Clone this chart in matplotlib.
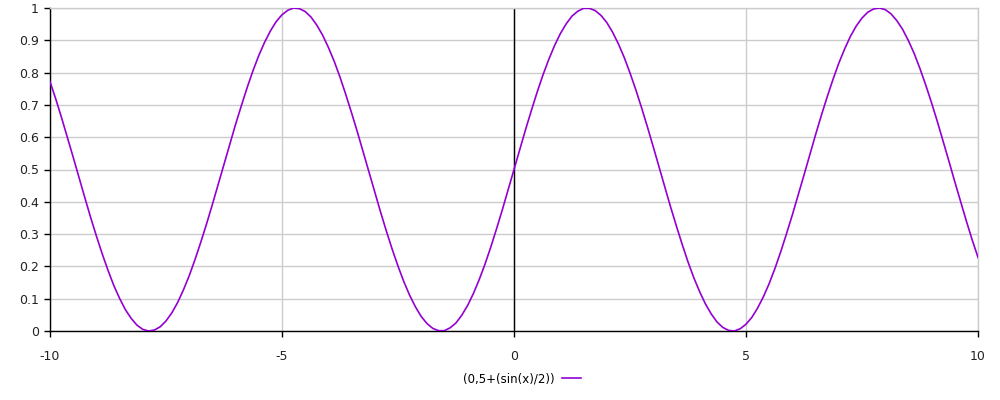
import numpy as np
import matplotlib
matplotlib.use("Agg")
import matplotlib.pyplot as plt

# Sample positions and values (one row per x unit, from -10)
x_start, x_step = -10.0, 0.125
y_values = [
    0.772, 0.718, 0.660, 0.599, 0.538, 0.475, 0.413, 0.352,
    0.294, 0.239, 0.188, 0.141, 0.101, 0.066, 0.039, 0.018,
    0.005, 0.000, 0.003, 0.013, 0.031, 0.056, 0.088, 0.127,
    0.171, 0.221, 0.275, 0.332, 0.392, 0.454, 0.517, 0.579,
    0.640, 0.698, 0.754, 0.806, 0.853, 0.894, 0.929, 0.958,
    0.979, 0.993, 1.000, 0.998, 0.989, 0.972, 0.947, 0.916,
    0.878, 0.835, 0.786, 0.732, 0.675, 0.616, 0.554, 0.492,
    0.429, 0.368, 0.309, 0.253, 0.201, 0.153, 0.111, 0.075,
    0.045, 0.023, 0.008, 0.001, 0.001, 0.010, 0.025, 0.049,
    0.079, 0.116, 0.159, 0.207, 0.260, 0.317, 0.376, 0.438,
    0.500, 0.562, 0.624, 0.683, 0.740, 0.793, 0.841, 0.884,
    0.921, 0.951, 0.975, 0.990, 0.999, 0.999, 0.992, 0.977,
    0.955, 0.925, 0.889, 0.847, 0.799, 0.747, 0.691, 0.632,
    0.571, 0.508, 0.446, 0.384, 0.325, 0.268, 0.214, 0.165,
    0.122, 0.084, 0.053, 0.028, 0.011, 0.002, 0.000, 0.007,
    0.021, 0.042, 0.071, 0.106, 0.147, 0.194, 0.246, 0.302,
    0.360, 0.421, 0.483, 0.546, 0.608, 0.668, 0.725, 0.779,
    0.829, 0.873, 0.912, 0.944, 0.969, 0.987, 0.997, 1.000,
    0.995, 0.982, 0.961, 0.934, 0.899, 0.859, 0.812, 0.761,
    0.706, 0.648, 0.587, 0.525, 0.462, 0.401, 0.340, 0.282,
    0.228,
]
x_values = x_start + x_step * np.arange(len(y_values))
series_label = "(0,5+(sin(x)/2))"
x_ticks = [-10, -5, 0, 5, 10]
y_ticks = [0, 0.1, 0.2, 0.3, 0.4, 0.5, 0.6, 0.7, 0.8, 0.9, 1]
y_tick_labels = ["0", "0.1", "0.2", "0.3", "0.4", "0.5", "0.6", "0.7", "0.8", "0.9", "1"]

plt.rcParams['font.family'] = ['DejaVu Sans']
fig = plt.figure(figsize=(10, 4), dpi=100)
ax = fig.add_axes([0.05, 0.1725, 0.928, 0.8075])

grid_color = "#cccccc"
line_color = "#9400d3"

ax.plot(x_values, y_values, color=line_color, lw=1.2, label=series_label, zorder=3)
ax.axvline(0, color="black", lw=1, zorder=2)

ax.set_xlim(-10, 10)
ax.set_ylim(0, 1)
ax.set_xticks(x_ticks)
ax.set_xticklabels([str(t) for t in x_ticks])
ax.set_yticks(y_ticks)
ax.set_yticklabels(y_tick_labels)
ax.grid(True, color=grid_color, lw=1, zorder=0)
ax.set_axisbelow(True)

for s in ["top", "right"]:
    ax.spines[s].set_color(grid_color)
    ax.spines[s].set_linewidth(1)
for s in ["left", "bottom"]:
    ax.spines[s].set_color("black")
    ax.spines[s].set_linewidth(1)

ax.tick_params(axis="both", direction="out", length=4, width=1, colors="black",
               labelsize=9, labelcolor="#222222")
ax.tick_params(axis="x", pad=10)
ax.tick_params(axis="y", pad=4)

fig.legend(loc="center", bbox_to_anchor=(0.522, 0.053), frameon=False,
           markerfirst=False, fontsize=8.5, handlelength=1.6, handletextpad=0.6)

fig.savefig("out.png", dpi=100)
